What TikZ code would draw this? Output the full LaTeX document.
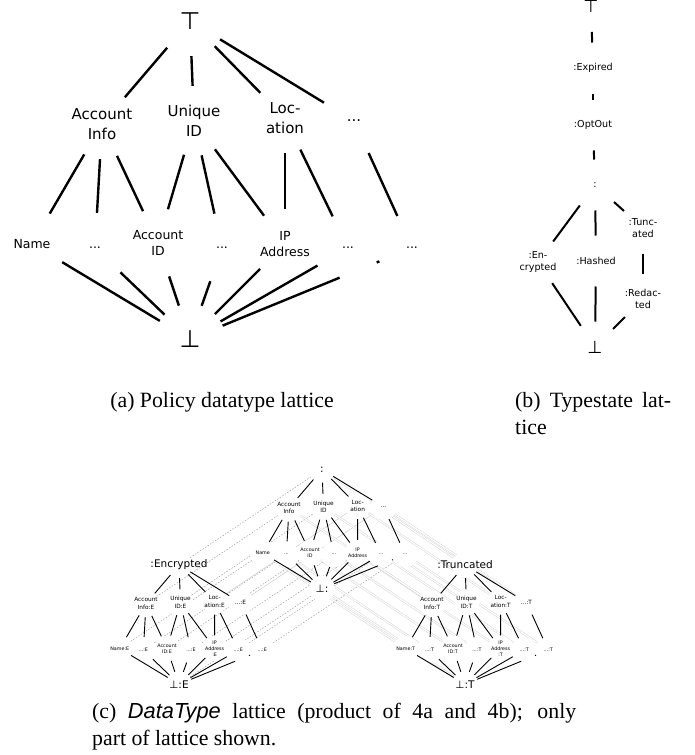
\documentclass[tikz,border=0pt]{standalone}
\usepackage{fontspec}
\setmainfont{DejaVu Sans}
\newfontfamily\capfont{Liberation Serif}
\newfontfamily\capsans{Liberation Sans}

\pgfdeclarelayer{bg}
\pgfsetlayers{bg,main}

% one datatype lattice: #1 prefix, #2 top, #3 bottom, #4 suffix, #5 IP suffix
\newcommand{\dtlattice}[5]{%
  \node[ext,label={[extlabel]center:{#2}}] (#1top) at (0,0) {};
  \node[row2] (#1ai)   at (-88,-103)  {Account\\Info#4};
  \node[row2] (#1uid)  at (4,-100)    {Unique\\ID#4};
  \node[row2] (#1loc)  at (95,-97)    {Loc-\\ation#4};
  \node[row2] (#1etc)  at (164,-100)  {...#4};
  \node[row3] (#1name) at (-158,-223) {Name#4};
  \node[row3] (#1da)   at (-95,-227)  {...#4};
  \node[row3] (#1acc)  at (-32,-222)  {Account\\ID#4};
  \node[row3] (#1db)   at (32,-227)   {...#4};
  \node[row3] (#1ip)   at (95,-223)   {IP\\Address#5};
  \node[row3] (#1dc)   at (158,-227)  {...#4};
  \node[row3] (#1dd)   at (222,-227)  {...#4};
  \node[ext,label={[extlabel]center:{#3}}] (#1bot) at (0,-318) {};
  \foreach \a/\b in {top/ai,top/uid,top/loc,top/etc,ai/name,ai/da,ai/acc,uid/acc,uid/db,uid/ip,
                     loc/ip,loc/dc,etc/dd,name/bot,da/bot,acc/bot,db/bot,ip/bot,dc/bot}
    \draw (#1\a) -- (#1\b);
  \draw[gap] (#1dd) -- (#1bot);
}

\begin{document}
\begin{tikzpicture}[x=1pt,y=1pt,
    lat/.style={circle,inner sep=0pt,fill=white,align=center},
    row2/.style={lat,minimum size=68pt,font=\fontsize{15}{20}\selectfont},
    row3/.style={lat,minimum size=68pt,font=\fontsize{12.5}{16}\selectfont},
    ext/.style={lat,minimum size=68pt},
    extlabel/.style={inner sep=0pt,font=\fontsize{24}{24}\selectfont},
    gap/.style={dash pattern=on 3pt off 40pt on 400pt},
    small/.style={scale=.375,line width=.9pt,
      row2/.style={lat,minimum size=25.5pt,font=\fontsize{5.8}{7.5}\selectfont},
      row3/.style={lat,minimum size=25.5pt,font=\fontsize{4.8}{6}\selectfont},
      ext/.style={lat,minimum size=25.5pt},
      extlabel/.style={inner sep=0pt,font=\fontsize{10.5}{10.5}\selectfont},
      gap/.style={dash pattern=on 1.1pt off 15pt on 150pt}},
    elink/.style={gray!75,line width=.5pt,dash pattern=on 1.5pt off 1.5pt},
    tlink/.style={gray!40,line width=.5pt},
    captext/.style={inner sep=0pt,font=\capfont\fontsize{21.8}{27}\selectfont}]
  \useasboundingbox (0,0) rectangle (695,-755);

  % (a) policy datatype lattice
  \begin{scope}[shift={(190,-21)},line width=2.4pt]
    \dtlattice{p}{⊤}{⊥}{}{}
  \end{scope}

  % (b) typestate lattice
  \begin{scope}[line width=2pt,
      row2/.style={lat,minimum size=49pt,font=\fontsize{9.6}{11.7}\selectfont},
      ext/.style={lat,minimum size=49pt},
      extlabel/.style={inner sep=0pt,font=\fontsize{17.3}{17.3}\selectfont}]
    \node[ext,label={[extlabel]center:⊤}] (stop) at (591,-6.5) {};
    \node[row2] (sexp)   at (593,-68)  {:Expired};
    \node[row2] (sopt)   at (593,-125) {:OptOut};
    \node[row2] (snone)  at (595,-185) {:};
    \node[row2] (senc)   at (538,-262) {:En-\\crypted};
    \node[row2] (shash)  at (596,-261) {:Hashed};
    \node[row2] (strunc) at (643,-228) {:Tunc-\\ated};
    \node[row2] (sred)   at (643,-299) {:Redac-\\ted};
    \node[ext,label={[extlabel]center:⊥}] (sbot) at (595,-347) {};
    \foreach \a/\b in {top/exp,exp/opt,opt/none,none/enc,none/hash,none/trunc,
                       trunc/red,enc/bot,hash/bot,red/bot}
      \draw (s\a) -- (s\b);
  \end{scope}

  % (c) product lattice, part of it
  \begin{scope}[shift={(322,-469.5)},small]
    \dtlattice{m}{:}{⊥:}{}{}
  \end{scope}
  \begin{scope}[shift={(179,-565)},small]
    \dtlattice{e}{:Encrypted}{⊥:E}{:E}{\\:E}
  \end{scope}
  \begin{scope}[shift={(465,-565)},small]
    \dtlattice{t}{:Truncated}{⊥:T}{:T}{\\:T}
  \end{scope}
  \begin{pgfonlayer}{bg}
    \foreach \n in {top,ai,uid,name,da,acc,db,ip,dc,dd,bot}
      \draw[elink] (m\n) -- (e\n);
    \foreach \n in {loc,etc}
      \draw[tlink] (m\n) -- (e\n);
    \foreach \n in {top,ai,uid,loc,etc,name,da,acc,db,ip,dc,dd,bot}
      \draw[tlink,double=white,double distance=1.2pt,line width=.4pt] (m\n) -- (t\n);
  \end{pgfonlayer}

  % captions
  \node[captext,anchor=base] (capa) at (222,-407) {(a) Policy datatype lattice};
  \node[captext,anchor=north west,text width=156pt,align=justify] (capb) at (515,-392)
    {(b) Typestate lat-\linebreak tice};
  \node[captext,anchor=north west,text width=484pt,align=justify] (capc) at (92,-703)
    {(c) {\capsans\itshape DataType} lattice (product of 4a and 4b); only\linebreak part of lattice shown.};
\end{tikzpicture}
\end{document}
